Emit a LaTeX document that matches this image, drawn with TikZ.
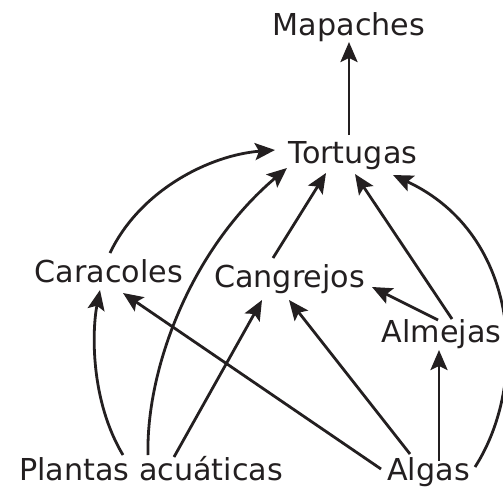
\documentclass[tikz,border=0pt]{standalone}
\usepackage{fontspec}
\setmainfont{DejaVu Sans}
\usetikzlibrary{arrows.meta,calc}
\definecolor{ink}{HTML}{231F20}
\begin{document}
\begin{tikzpicture}[x=1pt,y=-1pt,
  lbl/.style={anchor=base,inner sep=0pt,text=ink,font=\fontsize{30.2}{36}\selectfont},
  link/.style={draw=ink,line width=2.8pt,-{Stealth[length=20pt,width=17pt,inset=4pt]}}]
\useasboundingbox (0,0) rectangle (503,496);
\node[lbl] (map) at (349,35) {Mapaches};
\node[lbl] (tor) at (353,163) {Tortugas};
\node[lbl] (car) at (109,282) {Caracoles};
\node[lbl] (cang) at (289.5,287) {Cangrejos};
\node[lbl] (alm) at (441.5,342) {Almejas};
\node[lbl] (pla) at (151,480) {Plantas acuáticas};
\node[lbl] (alg) at (428.5,480) {Algas};

\draw[link] ($(tor.base)+(-4,-28)$) -- ($(map.base)+(0,7)$);
\draw[link] ($(car.base)+(1,-29)$) .. controls +(30,-63) and +(-65,5) .. ($(tor.base)+(-78,-13)$);
\draw[link] ($(pla.base)+(-3,-25)$) .. controls +(-2,-85) and +(-97,82) .. ($(tor.base)+(-66,5)$);
\draw[link] ($(cang.base)+(-16.5,-29)$) -- ($(tor.base)+(-27,10)$);
\draw[link] ($(alm.base)+(10.5,-23)$) -- ($(tor.base)+(2,11)$);
\draw[link] ($(alg.base)+(46.5,-13)$) .. controls +(53,-82) and +(129,60) .. ($(tor.base)+(40,12)$);
\draw[link] ($(pla.base)+(-28,-25)$) .. controls +(-33,-55) and +(-8,40) .. ($(car.base)+(-9,8)$);
\draw[link] ($(alg.base)+(-47.5,-11)$) -- ($(car.base)+(14,11)$);
\draw[link] ($(pla.base)+(23,-23)$) -- ($(cang.base)+(-27.5,13)$);
\draw[link] ($(alg.base)+(-18.5,-26)$) -- ($(cang.base)+(-0.5,13)$);
\draw[link] ($(alm.base)+(-3.5,-22)$) -- ($(cang.base)+(82.5,0)$);
\draw[link] ($(alg.base)+(10.5,-19)$) -- ($(alm.base)+(-2.5,8)$);
\end{tikzpicture}
\end{document}
